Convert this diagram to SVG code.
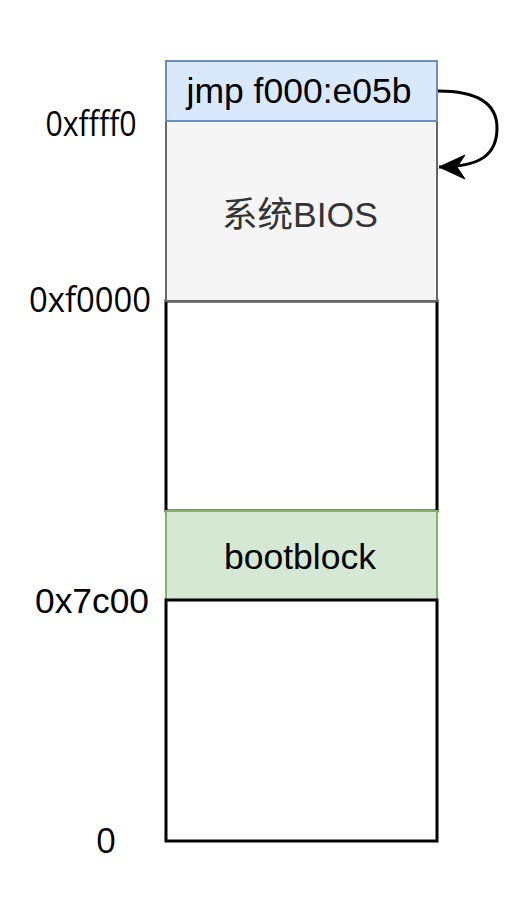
<svg xmlns="http://www.w3.org/2000/svg" width="513" height="903" viewBox="0 0 513 903">
<style>
.box{stroke-width:2}
.plain{fill:#ffffff;stroke:#000000;stroke-width:3}
.t{font-family:"Liberation Sans",Arial,"Noto Sans CJK SC",sans-serif;font-size:35.5px;text-anchor:middle;fill:#000000}
.lbl{font-family:"Open Sans","Noto Sans",sans-serif;font-size:35px;text-anchor:middle;fill:#000000}
.lbla{font-family:"Liberation Sans",Arial,sans-serif;font-size:35px;text-anchor:middle;fill:#000000}
</style>
<defs>
<marker id="arr" markerUnits="userSpaceOnUse" markerWidth="32" markerHeight="32" viewBox="0 0 32 32" refX="29" refY="16" orient="auto">
<path d="M29,16 L3,4 L11,16 L3,28 Z" fill="#000000" stroke="#000000" stroke-width="1"/>
</marker>
</defs>
<rect width="513" height="903" fill="#ffffff"/>
<g id="mem-mid">
<rect class="plain" x="166" y="301" width="271" height="210"/>
</g>
<g id="bios">
<rect class="box" x="166" y="121" width="271" height="180" fill="#f5f5f5" stroke="#666666"/>
<text class="t" x="300" y="227" style="fill:#333333">系统BIOS</text>
</g>
<g id="bootblock">
<rect class="box" x="166" y="511" width="271" height="89" fill="#d5e8d4" stroke="#82b366"/>
<text class="t" x="300" y="569">bootblock</text>
</g>
<g id="mem-low">
<rect class="plain" x="166" y="600" width="271" height="241"/>
</g>
<g id="jmp">
<rect class="box" x="166" y="61" width="271" height="60" fill="#dae8fc" stroke="#6c8ebf"/>
<text class="t" x="299" y="103">jmp f000:e05b</text>
</g>
<g id="labels">
<text class="lbl" x="91" y="136" textLength="91" lengthAdjust="spacingAndGlyphs">0xffff0</text>
<text class="lbl" x="90" y="312" textLength="122" lengthAdjust="spacingAndGlyphs">0xf0000</text>
<text class="lbla" x="92" y="613" textLength="114" lengthAdjust="spacingAndGlyphs">0x7c00</text>
<text class="lbl" x="106" y="853">0</text>
</g>
<g id="connectors">
<path d="M438,91 C480,91 497,105 497,128 C497,155 480,167 439,167" fill="none" stroke="#000000" stroke-width="3" marker-end="url(#arr)"/>
</g>
</svg>
